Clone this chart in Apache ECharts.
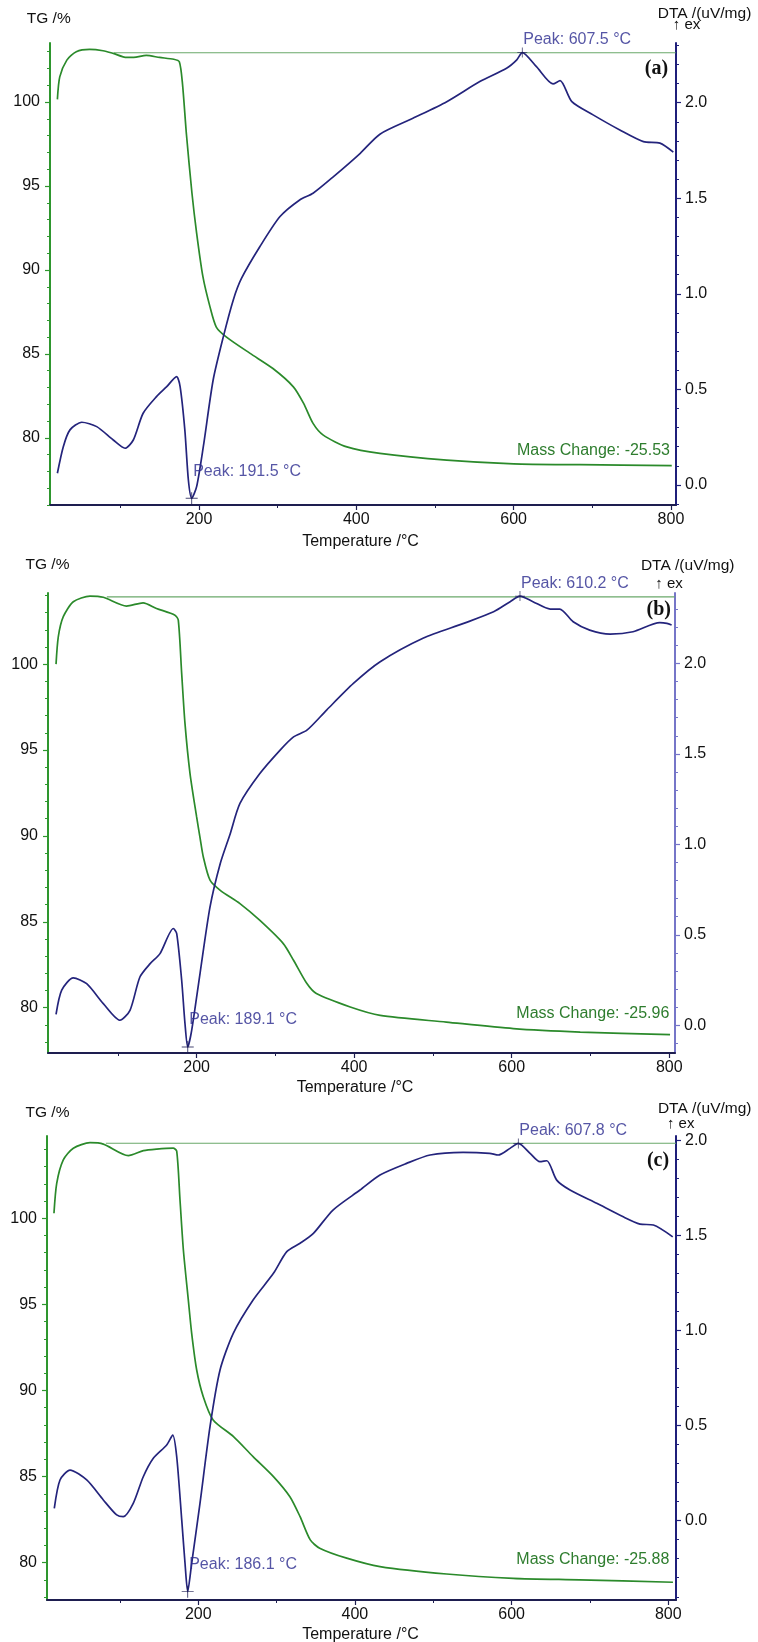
<!DOCTYPE html>
<html><head><meta charset="utf-8">
<script src="https://cdn.jsdelivr.net/npm/echarts@6/dist/echarts.min.js"></script>
<style>html,body{margin:0;padding:0;background:#fff}#c{width:758px;height:1642px}</style>
</head><body><div id="c"></div>
<script>
// ---------- data ----------
const tempMinorTicks = [100, 200, 300, 400, 500, 600, 700, 800];
const tempLabels = [200, 400, 600, 800];
const tgLabels = [80, 85, 90, 95, 100];
const dtaLabels = [0.0, 0.5, 1.0, 1.5, 2.0];
const panelNames = ['(a)', '(b)', '(c)'];
const massChanges = ['-25.53', '-25.96', '-25.88'];
const peakLowTexts = ['191.5', '189.1', '186.1'];
const peakHighTexts = ['607.5', '610.2', '607.8'];

const tgA = [[20,100.16],[23,101.5],[32,102.5],[44,103.0],[61,103.14],[78,103.06],[91,102.9],[108,102.66],[117,102.66],[133,102.78],[150,102.66],[168,102.55],[175,102.4],[179,101.1],[184,98.1],[191,94.6],[197,92.2],[205,89.6],[214,87.8],[222,86.6],[235,86.0],[265,85.03],[294,84.13],[320,83.04],[333,82.05],[345,80.86],[358,80.16],[388,79.46],[430,79.07],[515,78.67],[600,78.45],[684,78.40],[801,78.35]];
const dtaA = [[20,0.061],[27.5,0.2],[36,0.288],[51,0.328],[70,0.305],[91,0.235],[106,0.192],[116.5,0.235],[129,0.375],[146,0.462],[159,0.514],[171.5,0.567],[176,0.514],[182,0.288],[186.5,0.026],[190.7,-0.07],[197,-0.009],[205.5,0.2],[218,0.549],[231,0.776],[243.6,0.968],[254,1.08],[277.5,1.247],[303,1.404],[328,1.491],[345,1.526],[371,1.613],[405,1.735],[430,1.835],[472,1.918],[515,2.005],[557,2.11],[591,2.18],[604,2.224],[611,2.262],[629,2.188],[650,2.098],[659,2.115],[674,2.005],[701,1.936],[735,1.857],[765,1.796],[786,1.788],[803,1.741]];
const peaksA = [[190.7,-0.07],[611,2.262]];
const baseA = [[92,102.94],[806,102.94]];

const tgB = [[21.5,100.0],[24.4,101.6],[30.7,102.76],[43.4,103.63],[64.6,103.96],[81.5,103.89],[111,103.38],[132,103.57],[149,103.24],[172.5,102.85],[176.7,102.56],[181,99.46],[185.2,96.55],[191.6,93.63],[200,91.1],[204.3,89.9],[208.5,88.77],[217,87.42],[230,86.83],[255,86.06],[280,85.09],[310,83.73],[323,82.76],[340,81.4],[352,80.82],[395,80.04],[433,79.55],[517,79.16],[602,78.78],[687,78.58],[801,78.43]];
const dtaB = [[21.5,0.061],[28.7,0.194],[43.4,0.262],[60.4,0.23],[81.5,0.12],[102.7,0.028],[115.4,0.083],[128,0.267],[141,0.341],[153.5,0.396],[170.4,0.535],[174.7,0.507],[181,0.249],[185.2,0.01],[188.7,-0.12],[193.7,-0.028],[204.3,0.286],[217,0.654],[230,0.894],[242,1.05],[255,1.226],[280,1.39],[306,1.521],[323,1.594],[340,1.631],[365,1.742],[399,1.889],[433,2.009],[488,2.14],[539,2.221],[577,2.285],[598,2.341],[610.5,2.372],[627,2.341],[649,2.3],[661,2.3],[678,2.23],[699,2.184],[725,2.162],[754,2.175],[788,2.225],[797,2.221],[803,2.212]];
const peaksB = [[188.7,-0.12],[610.5,2.372]];
const baseB = [[86,103.92],[807,103.92]];

const tgC = [[15.8,100.29],[19.3,102.03],[27.7,103.39],[40.5,104.07],[61.8,104.39],[78.8,104.31],[110.7,103.64],[130,103.93],[147,104.02],[168,104.07],[172.5,103.9],[176.7,101.06],[181,98.16],[187.3,95.26],[191.6,93.32],[198,91.19],[206.4,89.64],[219,88.29],[245,87.32],[270,86.16],[296,85.0],[317,83.83],[330,82.67],[343,81.32],[355,80.84],[389.5,80.26],[432,79.77],[517,79.34],[602,79.09],[687,79.0],[806,78.86]];
const dtaC = [[16.2,0.065],[23.5,0.214],[36.3,0.266],[57.6,0.214],[78.8,0.109],[95.9,0.03],[104.3,0.021],[117,0.091],[129.8,0.231],[142.6,0.328],[159.7,0.398],[167.4,0.45],[172.5,0.336],[178.9,0.004],[183.1,-0.224],[186.5,-0.373],[191.6,-0.224],[202.2,0.091],[215,0.494],[227.8,0.792],[244.7,0.985],[270,1.16],[296,1.3],[313,1.414],[330,1.458],[347,1.51],[372,1.633],[406.5,1.738],[432,1.817],[466,1.878],[496,1.922],[538,1.936],[572,1.931],[583,1.922],[598,1.957],[608.6,1.983],[623.6,1.931],[636,1.887],[645,1.892],[657.6,1.79],[674.6,1.738],[708.7,1.668],[742.6,1.597],[764,1.559],[781,1.554],[805.7,1.492]];
const peaksC = [[186.5,-0.373],[608.6,1.983]];
const baseC = [[82,104.36],[810,104.36]];

// ---------- layout ----------
const FONT = '"Liberation Sans", Arial, sans-serif';
const panels = [
  {tg: tgA, dta: dtaA, peaks: peaksA, base: baseA,
   grid: {left: 50, top: 43, width: 626, height: 462},
   x: [10.6, 806.4], y: [76.0, 103.52], y2: [-0.105, 2.312], rc: '#1f1f7a',
   t: {tg: [48.7, 18.3], dta: [704.5, 13.3], ex: [686.5, 25], nm: [656.5, 69], ms: [670, 450.7], temp: [360.5, 541.7]}},
  {tg: tgB, dta: dtaB, peaks: peaksB, base: baseB,
   grid: {left: 48, top: 593, width: 627, height: 460},
   x: [11.3, 807.3], y: [77.36, 104.14], y2: [-0.153, 2.389], rc: '#7676c8',
   t: {tg: [47.5, 565], dta: [687.7, 566], ex: [669, 584], nm: [658.7, 610], ms: [669.3, 1013.3], temp: [355, 1087.7]}},
  {tg: tgC, dta: dtaC, peaks: peaksC, base: baseC,
   grid: {left: 47, top: 1136, width: 629, height: 464},
   x: [6.9, 809.9], y: [77.83, 104.78], y2: [-0.417, 2.022], rc: '#1f1f7a',
   t: {tg: [47.5, 1112.7], dta: [704.7, 1108.3], ex: [680.7, 1124], nm: [658, 1160.7], ms: [669.3, 1559.3], temp: [360.5, 1634.3]}}
];

function range(a, b, step, dec) {
  const out = [];
  const s = Math.ceil(a / step - 1e-9), e = Math.floor(b / step + 1e-9);
  for (let i = s; i <= e; i++) out.push(+(i * step).toFixed(dec));
  return out;
}

const grids = [], xAxes = [], yAxes = [], series = [], graphics = [];
const TG_COLOR = '#2b8a2b', DTA_COLOR = '#24247c', AXIS_GREEN = '#2e962e';

panels.forEach((p, i) => {
  grids.push(Object.assign({containLabel: false}, p.grid));
  const xi = xAxes.length;
  xAxes.push({type: 'value', gridIndex: i, min: p.x[0], max: p.x[1], position: 'bottom',
    axisLine: {show: true, onZero: false, lineStyle: {color: '#1e1e50', width: 2}},
    axisTick: {show: true, length: 5, lineStyle: {color: '#1e1e50', width: 1.2}, customValues: tempLabels},
    axisLabel: {show: true, customValues: tempLabels, margin: 7, color: '#111', fontSize: 16, fontFamily: FONT},
    splitLine: {show: false}});
  xAxes.push({type: 'value', gridIndex: i, min: p.x[0], max: p.x[1], position: 'bottom',
    axisLine: {show: false, onZero: false}, axisLabel: {show: false}, splitLine: {show: false},
    axisTick: {show: true, length: 3, lineStyle: {color: '#1e1e50', width: 1}, customValues: tempMinorTicks}});

  const yi = yAxes.length;
  yAxes.push({type: 'value', gridIndex: i, min: p.y[0], max: p.y[1], position: 'left',
    axisLine: {show: true, onZero: false, lineStyle: {color: AXIS_GREEN, width: 2}},
    axisTick: {show: true, length: 5, lineStyle: {color: AXIS_GREEN, width: 1.2}, customValues: tgLabels},
    axisLabel: {show: true, customValues: tgLabels, margin: 10, color: '#111', fontSize: 16, fontFamily: FONT},
    splitLine: {show: false}});
  yAxes.push({type: 'value', gridIndex: i, min: p.y[0], max: p.y[1], position: 'left',
    axisLine: {show: false, onZero: false}, axisLabel: {show: false}, splitLine: {show: false},
    axisTick: {show: true, length: 3, lineStyle: {color: AXIS_GREEN, width: 1}, customValues: range(p.y[0], p.y[1], 1, 0)}});
  const dtaLab = dtaLabels.filter(v => v >= p.y2[0] && v <= p.y2[1]);
  yAxes.push({type: 'value', gridIndex: i, min: p.y2[0], max: p.y2[1], position: 'right',
    axisLine: {show: true, onZero: false, lineStyle: {color: p.rc, width: 2}},
    axisTick: {show: true, length: 5, lineStyle: {color: p.rc, width: 1.2}, customValues: dtaLab},
    axisLabel: {show: true, customValues: dtaLab, margin: 9, color: '#111', fontSize: 16, fontFamily: FONT,
      formatter: v => (+v).toFixed(1)},
    splitLine: {show: false}});
  yAxes.push({type: 'value', gridIndex: i, min: p.y2[0], max: p.y2[1], position: 'right',
    axisLine: {show: false, onZero: false}, axisLabel: {show: false}, splitLine: {show: false},
    axisTick: {show: true, length: 3, lineStyle: {color: p.rc, width: 1}, customValues: range(p.y2[0], p.y2[1], 0.1, 1)}});

  series.push({type: 'line', xAxisIndex: xi, yAxisIndex: yi, data: p.base, showSymbol: false, silent: true,
    lineStyle: {color: '#6aa86a', width: 1.2}, z: 1});
  series.push({type: 'line', xAxisIndex: xi, yAxisIndex: yi, data: p.tg, showSymbol: false, smooth: 0.25,
    lineStyle: {color: TG_COLOR, width: 1.7}, z: 2});
  series.push({type: 'line', xAxisIndex: xi, yAxisIndex: yi + 2, data: p.dta, showSymbol: false, smooth: 0.25,
    lineStyle: {color: DTA_COLOR, width: 1.7}, z: 3});
  series.push({type: 'scatter', xAxisIndex: xi, yAxisIndex: yi + 2, z: 4,
    symbol: 'path://M0,4.6H10V5.4H0Z M4.6,0H5.4V10H4.6Z', symbolSize: 12,
    itemStyle: {color: '#1a1a50'},
    data: [
      {value: p.peaks[0], label: {show: true, position: [7.5, -21], align: 'left', verticalAlign: 'middle',
        formatter: 'Peak: ' + peakLowTexts[i] + ' °C'}},
      {value: p.peaks[1], symbolSize: 10, label: {show: true, position: [6, -7.5], align: 'left', verticalAlign: 'middle',
        formatter: 'Peak: ' + peakHighTexts[i] + ' °C'}}
    ],
    label: {color: '#2b2b8e', fontSize: 16, fontFamily: FONT}});

  const t = p.t;
  const txt = (pos, text, opt) => graphics.push({type: 'text', x: pos[0], y: pos[1], silent: true,
    style: Object.assign({text, fill: '#111', font: '16px ' + FONT, align: 'center', verticalAlign: 'middle'}, opt || {})});
  txt(t.tg, 'TG /%', {font: '15.5px ' + FONT});
  txt(t.dta, 'DTA /(uV/mg)', {font: '15.5px ' + FONT});
  txt(t.ex, '↑ ex', {font: '15px ' + FONT});
  txt(t.nm, panelNames[i], {font: 'bold 20px "Liberation Serif", "Times New Roman", serif'});
  txt(t.ms, 'Mass Change: ' + massChanges[i], {fill: '#2e7d2e', align: 'right'});
  txt(t.temp, 'Temperature /°C');
});

const chart = echarts.init(document.getElementById('c'), null, {renderer: 'canvas'});
chart.setOption({
  animation: false,
  backgroundColor: '#fff',
  grid: grids, xAxis: xAxes, yAxis: yAxes, series, graphic: graphics
});
</script></body></html>
